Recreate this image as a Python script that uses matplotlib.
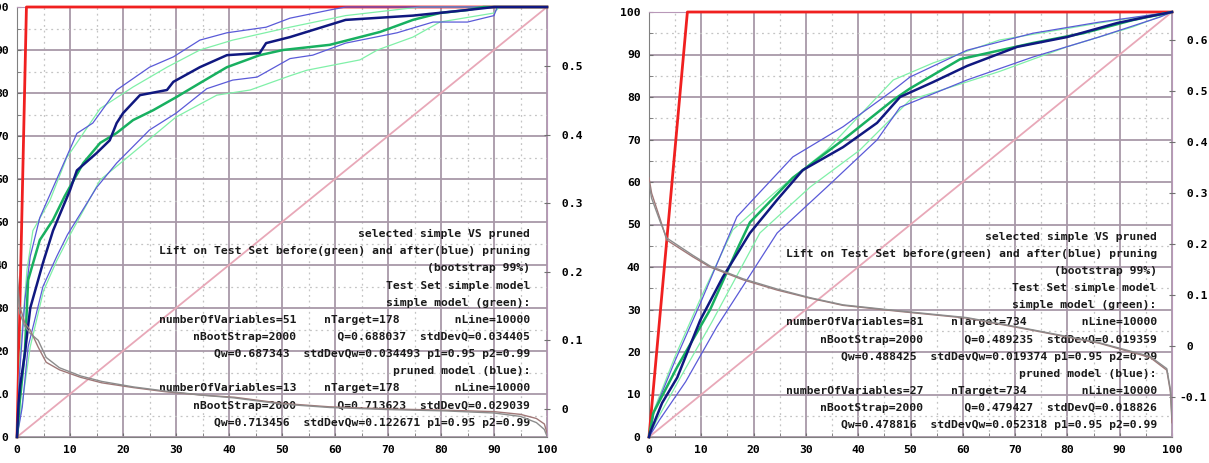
import matplotlib
matplotlib.use("Agg")
import matplotlib.pyplot as plt
from matplotlib.ticker import MultipleLocator, FuncFormatter

# ---------------- left panel (nTarget=178) ----------------
L_red_x = [0, 1.78, 100]
L_red_y = [0, 100, 100]

L_blue_x = [0, 0.3, 0.6, 1.5, 2.5, 4.9, 6.8, 10, 11.3, 15, 17.5, 18.8, 20, 23.2, 28.3, 29.5,
            34.5, 39.6, 45.8, 47, 51.5, 62, 74.7, 85, 90, 100]
L_blue_y = [0, 8, 12, 19.5, 30, 40.5, 48, 57.4, 62, 66, 69, 73, 75.3, 79.5, 80.7, 82.6,
            86, 88.8, 89.3, 91.6, 93, 97, 98, 99.3, 100, 100]

L_green_x = [0, 0.5, 1.5, 2.1, 4.3, 6.8, 9, 12.5, 15.7, 18.8, 21.9, 25.7, 30, 34.5, 39.6,
             45.8, 50.2, 59, 68.5, 74.7, 79.8, 85, 88, 100]
L_green_y = [0, 8, 20, 36.5, 45.8, 50.5, 56, 63.7, 68.4, 70.7, 73.7, 76, 79, 82.3, 86,
             88.8, 90, 91.2, 94.2, 97, 98.6, 99.3, 100, 100]

L_green_hi_x = [0, 0.6, 1.9, 3, 6.2, 9.4, 12.5, 15.7, 21.9, 28.3, 34.5, 40.7, 51.5, 62, 76, 100]
L_green_hi_y = [0, 19.5, 39, 48, 55, 65, 70.6, 76.4, 81.4, 86, 90, 92.3, 95.3, 98, 100, 100]

L_blue_hi_x = [0, 0.5, 1.5, 2.5, 4.3, 6.8, 11.3, 14.3, 18.8, 25, 29.5, 34.5, 39.6, 47, 51.5,
               59, 62, 100]
L_blue_hi_y = [0, 15, 32, 42, 51, 58, 70.6, 73, 80.7, 86, 88.4, 92.3, 94, 95.3, 97.4,
               99.3, 100, 100]

L_green_lo_x = [0, 1, 2.5, 5, 7.5, 10, 15.7, 20.8, 30, 37.7, 44, 51.5, 54.7, 64.7, 68, 74.7,
                79.8, 90, 91, 100]
L_green_lo_y = [0, 8, 21, 34, 41, 47, 59.8, 65, 74.4, 79.5, 80.7, 84, 85.3, 87.7, 90, 93,
                96.5, 98.6, 100, 100]

L_blue_lo_x = [0, 1, 2.1, 4.9, 7.5, 9.5, 15, 18.8, 25, 30, 35.8, 40.7, 45.3, 51.5, 55.8, 62,
               71.7, 78.5, 85, 90, 90.6, 100]
L_blue_lo_y = [0, 7, 21, 35, 42, 47, 58, 63.7, 71.4, 75.3, 81, 83, 83.7, 88, 88.8, 91.6,
               94, 96.5, 96.5, 98, 100, 100]

# curves on the second y axis
L_th_x = [0, 0.5, 1.5, 2.5, 4, 5.5, 8, 12, 16, 22, 28, 35, 41, 50, 59, 70, 81, 90, 95, 98,
          99.5, 100]
L_th1_y = [0.2, 0.15, 0.125, 0.115, 0.09, 0.068, 0.057, 0.046, 0.038, 0.031, 0.025, 0.020,
           0.017, 0.008, 0.003, 0.0, -0.002, -0.004, -0.008, -0.014, -0.022, -0.035]
L_th2_y = [0.19, 0.14, 0.12, 0.11, 0.1, 0.075, 0.06, 0.048, 0.04, 0.032, 0.026, 0.020,
           0.016, 0.007, 0.002, -0.001, -0.003, -0.006, -0.011, -0.02, -0.03, -0.04]

L_text = [
    "selected simple VS pruned",
    "Lift on Test Set before(green) and after(blue) pruning",
    "(bootstrap 99%)",
    "Test Set simple model",
    "simple model (green):",
    "numberOfVariables=51    nTarget=178        nLine=10000",
    "nBootStrap=2000      Q=0.688037  stdDevQ=0.034405",
    "Qw=0.687343  stdDevQw=0.034493 p1=0.95 p2=0.99",
    "pruned model (blue):",
    "numberOfVariables=13    nTarget=178        nLine=10000",
    "nBootStrap=2000      Q=0.713623  stdDevQ=0.029039",
    "Qw=0.713456  stdDevQw=0.122671 p1=0.95 p2=0.99",
]

# ---------------- right panel (nTarget=734) ----------------
R_red_x = [0, 7.34, 100]
R_red_y = [0, 100, 100]

R_blue_x = [0, 0.2, 2.5, 5.4, 9.8, 14.1, 19.3, 24.5, 29.4, 37.1, 43.6, 48, 54.3, 60.8, 70.4,
            79.9, 89.5, 95, 100]
R_blue_y = [0, 1, 8, 14, 27.5, 37.6, 48, 55.8, 62.8, 68.2, 73.9, 80, 83.5, 87.3, 91.8,
            94.1, 97.4, 98.8, 100]

R_green_x = [0, 0.8, 5.4, 11.7, 16.8, 19.3, 27.5, 37.1, 46.7, 49.9, 59.5, 73.4, 83, 92.5, 100]
R_green_y = [0, 5.6, 16.5, 30, 44, 50.5, 61, 69.9, 79.3, 82, 88.9, 92.7, 95, 98.1, 100]

R_green_hi_x = [0, 1, 5, 10, 16, 24.5, 34, 46.7, 54.3, 67, 86, 100]
R_green_hi_y = [0, 6.5, 19, 33, 48.7, 58, 67.5, 84, 88, 93.4, 97.4, 100]

R_blue_hi_x = [0, 1, 5, 10, 16.8, 27.5, 37.1, 46.7, 49.9, 60.8, 73.4, 86, 100]
R_blue_hi_y = [0, 6, 18, 32, 51.8, 65.9, 73, 81.6, 84.7, 91, 95, 97.6, 100]

R_green_lo_x = [0, 1.5, 6, 12, 21.2, 30.8, 40.3, 49.9, 54.3, 67, 79.9, 92.5, 100]
R_green_lo_y = [0, 4, 14, 27, 48, 58.8, 67.5, 79.3, 81, 86, 91.8, 96.5, 100]

R_blue_lo_x = [0, 2, 7, 13, 24.5, 34, 43.6, 48, 60.8, 73.4, 86, 97.7, 100]
R_blue_lo_y = [0, 4, 13, 26, 48, 58.8, 69.9, 77.6, 84, 89.4, 94.1, 98.8, 100]

R_th_x = [0, 0.5, 2.1, 3.4, 8.4, 11.7, 18, 24.5, 30.8, 37.1, 48, 60.8, 73.4, 86, 95.8, 99,
          99.7, 100]
R_th1_y = [0.33, 0.3, 0.25, 0.208, 0.175, 0.155, 0.13, 0.11, 0.094, 0.08, 0.068, 0.055,
           0.031, 0.006, -0.022, -0.047, -0.09, -0.15]
R_th2_y = [0.32, 0.29, 0.245, 0.212, 0.178, 0.157, 0.132, 0.112, 0.095, 0.081, 0.069, 0.056,
           0.032, 0.007, -0.02, -0.044, -0.085, -0.14]

R_text = [
    "selected simple VS pruned",
    "Lift on Test Set before(green) and after(blue) pruning",
    "(bootstrap 99%)",
    "Test Set simple model",
    "simple model (green):",
    "numberOfVariables=81    nTarget=734        nLine=10000",
    "nBootStrap=2000      Q=0.489235  stdDevQ=0.019359",
    "Qw=0.488425  stdDevQw=0.019374 p1=0.95 p2=0.99",
    "pruned model (blue):",
    "numberOfVariables=27    nTarget=734        nLine=10000",
    "nBootStrap=2000      Q=0.479427  stdDevQ=0.018826",
    "Qw=0.478816  stdDevQw=0.052318 p1=0.95 p2=0.99",
]

FONT = dict(family="DejaVu Sans Mono", weight="bold", size=8.2)
C_RED = "#f02020"
C_PINK = "#e8a8b8"
C_GREEN = "#18b060"
C_LGREEN = "#80f0a8"
C_DBLUE = "#101880"
C_BLUE = "#5a5ad8"
C_GRID = "#a898a8"


def y2fmt(v, pos):
    # gnuplot style: left aligned, sign column kept free for positives
    if abs(v) < 1e-9:
        return " 0"
    if v < 0:
        return "-%.1f" % abs(v)
    return " %.1f" % v


def panel(ax, d, y2lim, text, text_x, text_top, text_step):
    ax.set_xlim(0, 100)
    ax.set_ylim(0, 100)
    ax.xaxis.set_major_locator(MultipleLocator(10))
    ax.yaxis.set_major_locator(MultipleLocator(10))
    ax.xaxis.set_minor_locator(MultipleLocator(5))
    ax.yaxis.set_minor_locator(MultipleLocator(5))
    ax.grid(which="major", color=C_GRID, lw=1.3, ls="-")
    ax.grid(which="minor", color="#c4c4c4", lw=0.9, ls=(0, (1.5, 3)))
    ax.set_axisbelow(True)
    ax.tick_params(which="both", direction="in", length=3, color="#707070",
                   pad=6, labelsize=FONT["size"])
    for lab in ax.get_xticklabels() + ax.get_yticklabels():
        lab.set_fontfamily(FONT["family"])
        lab.set_fontweight("bold")
    for s in ["left", "bottom"]:
        ax.spines[s].set_color("#808080")
    ax.spines["right"].set_color("#b898b8")
    ax.spines["top"].set_color("#b898b8")

    ax.plot(d["red"][0], d["red"][1], color=C_RED, lw=2.0, zorder=2.8, clip_on=False)
    ax.plot([0, 100], [0, 100], color=C_PINK, lw=1.3, zorder=2)
    ax.plot(d["glo"][0], d["glo"][1], color=C_LGREEN, lw=0.9, zorder=3, clip_on=False)
    ax.plot(d["ghi"][0], d["ghi"][1], color=C_LGREEN, lw=0.9, zorder=3, clip_on=False)
    ax.plot(d["blo"][0], d["blo"][1], color=C_BLUE, lw=0.9, zorder=3, clip_on=False)
    ax.plot(d["bhi"][0], d["bhi"][1], color=C_BLUE, lw=0.9, zorder=3, clip_on=False)
    ax.plot(d["g"][0], d["g"][1], color=C_GREEN, lw=1.8, zorder=4, clip_on=False)
    ax.plot(d["b"][0], d["b"][1], color=C_DBLUE, lw=1.8, zorder=5, clip_on=False)

    for i, line in enumerate(text):
        ax.text(text_x, text_top - i * text_step, line, ha="right", va="center",
                color="#1a1a1a", zorder=7, **FONT)

    ax2 = ax.twinx()
    ax2.set_ylim(*y2lim)
    ax2.yaxis.set_major_locator(MultipleLocator(0.1))
    ax2.yaxis.set_major_formatter(FuncFormatter(y2fmt))
    ax2.tick_params(direction="inout", length=5, color="#707070", pad=3,
                    labelsize=FONT["size"])
    for lab in ax2.get_yticklabels():
        lab.set_fontfamily(FONT["family"])
        lab.set_fontweight("bold")
    for s in ax2.spines.values():
        s.set_visible(False)
    ax2.plot(d["th"][0], d["th1"], color="#a07878", lw=1.0)
    ax2.plot(d["th"][0], d["th2"], color="#8c8c8c", lw=1.0)


fig = plt.figure(figsize=(12.09, 4.63), dpi=100)
ax_l = fig.add_axes([17 / 1209, 1 - 437 / 463, 530 / 1209, 430 / 463])
ax_r = fig.add_axes([649 / 1209, 1 - 437 / 463, 523 / 1209, 425 / 463])

left = {
    "red": (L_red_x, L_red_y), "b": (L_blue_x, L_blue_y), "g": (L_green_x, L_green_y),
    "ghi": (L_green_hi_x, L_green_hi_y), "bhi": (L_blue_hi_x, L_blue_hi_y),
    "glo": (L_green_lo_x, L_green_lo_y), "blo": (L_blue_lo_x, L_blue_lo_y),
    "th": (L_th_x,), "th1": L_th1_y, "th2": L_th2_y,
}
right = {
    "red": (R_red_x, R_red_y), "b": (R_blue_x, R_blue_y), "g": (R_green_x, R_green_y),
    "ghi": (R_green_hi_x, R_green_hi_y), "bhi": (R_blue_hi_x, R_blue_hi_y),
    "glo": (R_green_lo_x, R_green_lo_y), "blo": (R_blue_lo_x, R_blue_lo_y),
    "th": (R_th_x,), "th1": R_th1_y, "th2": R_th2_y,
}

panel(ax_l, left, (-0.041, 0.586), L_text, 96.8, 47.2, 3.99)
panel(ax_r, right, (-0.178, 0.655), R_text, 97.1, 47.1, 4.03)

fig.savefig("out.png", dpi=100)
